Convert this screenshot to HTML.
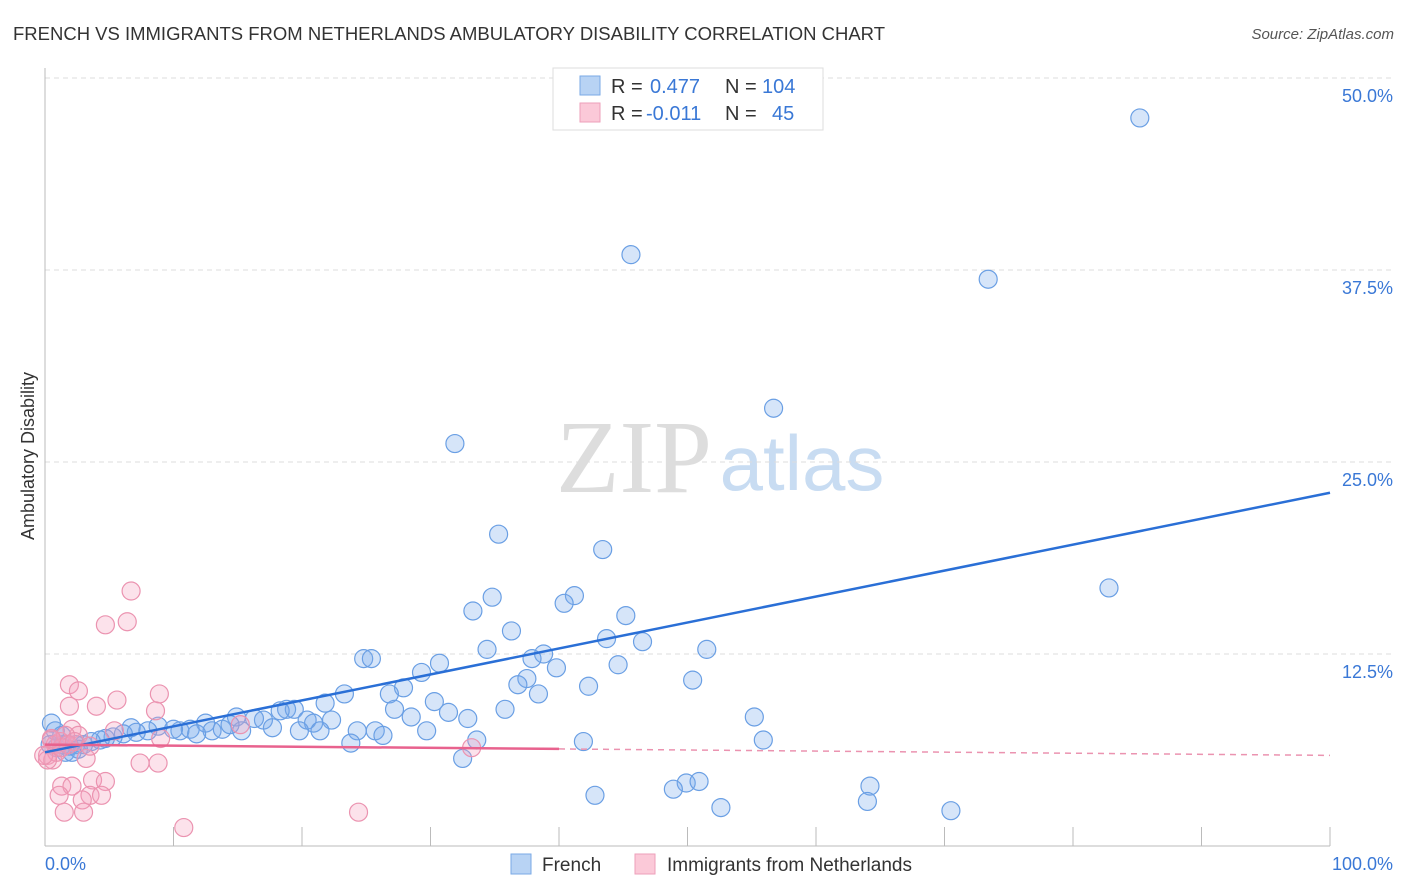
<!DOCTYPE html>
<html><head><meta charset="utf-8"><style>
body{margin:0;background:#fff;font-family:"Liberation Sans",sans-serif;}
#wrap{position:relative;width:1406px;height:892px;overflow:hidden;}
</style></head><body>
<div id="wrap">
<svg id="chart" width="1406" height="892" xmlns="http://www.w3.org/2000/svg">
<text x="13" y="40" font-size="18" fill="#333" textLength="872" lengthAdjust="spacingAndGlyphs">FRENCH VS IMMIGRANTS FROM NETHERLANDS AMBULATORY DISABILITY CORRELATION CHART</text>
<text x="1394" y="39" font-size="15" fill="#555" font-style="italic" text-anchor="end">Source: ZipAtlas.com</text>
<text x="34" y="456" font-size="18" fill="#333" text-anchor="middle" transform="rotate(-90 34 456)">Ambulatory Disability</text>
<g>
<text x="634" y="492" font-size="104" fill="#ddd" font-family="Liberation Serif,serif" text-anchor="middle">ZIP</text>
<text x="802" y="490" font-size="78" fill="#c8dcf2" text-anchor="middle">atlas</text>
</g>
<g id="grid"></g>
<g id="axes"></g>
<g id="pts"></g>
<g id="trends"></g>
<g>
<rect x="553" y="68" width="270" height="62" fill="#fff" stroke="#ddd"/>
<rect x="580" y="76" width="20" height="19" fill="#b8d3f4" stroke="#7aaae6"/>
<rect x="580" y="103" width="20" height="19" fill="#fbc9d8" stroke="#ee9fba"/>
<text x="611" y="93" font-size="20" fill="#333">R =</text><text x="650" y="93" font-size="20" fill="#3a78d6">0.477</text>
<text x="725" y="93" font-size="20" fill="#333">N =</text><text x="762" y="93" font-size="20" fill="#3a78d6">104</text>
<text x="611" y="120" font-size="20" fill="#333">R =</text><text x="646" y="120" font-size="20" fill="#3a78d6">-0.011</text>
<text x="725" y="120" font-size="20" fill="#333">N =</text><text x="772" y="120" font-size="20" fill="#3a78d6">45</text>
</g>
<g>
<rect x="511" y="854" width="20" height="20" fill="#b8d3f4" stroke="#7aaae6"/>
<text x="542" y="871" font-size="19" fill="#333">French</text>
<rect x="635" y="854" width="20" height="20" fill="#fbc9d8" stroke="#ee9fba"/>
<text x="667" y="871" font-size="19" fill="#333">Immigrants from Netherlands</text>
</g>
<text x="45" y="870" font-size="18" fill="#3a78d6">0.0%</text>
<text x="1393" y="870" font-size="18" fill="#3a78d6" text-anchor="end">100.0%</text>
</svg>
</div>
<script>
const yTicks=[12.5,25,37.5,50];
const yTickLabels=["12.5%","25.0%","37.5%","50.0%"];
const frenchX=[85.2,45.6,73.4,56.7,31.9,35.3,43.4,82.8,41.2,34.8,40.4,33.3,45.2,36.3,43.7,46.5,38.8,34.4,51.5,37.9,24.8,25.4,30.7,39.8,44.6,29.3,37.5,50.4,36.8,42.3,27.9,26.8,23.3,21.8,30.3,38.4,35.8,27.2,31.4,28.5,55.2,32.9,18.8,19.4,18.3,17.0,14.9,16.3,20.4,22.3,20.9,17.7,19.8,21.4,24.3,25.7,26.3,29.7,15.3,12.5,13.0,13.8,14.4,10.5,11.3,11.8,10.0,8.8,8.0,6.7,7.1,6.1,5.3,4.7,4.3,3.6,3.0,2.4,1.9,1.4,0.5,0.8,1.3,0.4,0.9,1.6,2.1,2.6,23.8,33.6,32.5,41.9,55.9,49.9,48.9,42.8,52.6,64.2,64.0,70.5,50.9];
const frenchY=[47.4,38.5,36.9,28.5,26.2,20.3,19.3,16.8,16.3,16.2,15.8,15.3,15.0,14.0,13.5,13.3,12.5,12.8,12.8,12.2,12.2,12.2,11.9,11.6,11.8,11.3,10.9,10.8,10.5,10.4,10.3,9.9,9.9,9.3,9.4,9.9,8.9,8.9,8.7,8.4,8.4,8.3,8.9,8.9,8.8,8.2,8.4,8.3,8.2,8.2,8.0,7.7,7.5,7.5,7.5,7.5,7.2,7.5,7.5,8.0,7.5,7.6,7.9,7.5,7.6,7.3,7.6,7.8,7.5,7.7,7.4,7.3,7.1,7.0,6.9,6.8,6.6,6.6,6.5,6.6,8.0,7.5,7.2,6.6,6.4,6.1,6.1,6.3,6.7,6.9,5.7,6.8,6.9,4.1,3.7,3.3,2.5,3.9,2.9,2.3,4.2];
const nethX=[6.7,6.4,4.7,1.9,2.6,8.9,5.6,4.0,1.9,8.6,2.1,5.4,9.0,2.6,0.5,0.8,1.2,1.6,0.2,0.6,3.2,7.4,8.8,1.3,2.1,3.7,4.7,1.1,3.5,4.4,2.9,1.5,3.0,10.8,24.4,33.2,15.2,0.9,0.2,1.3,1.8,2.3,3.5,-0.1,0.5];
const nethY=[16.6,14.6,14.4,10.5,10.1,9.9,9.5,9.1,9.1,8.8,7.6,7.5,7.0,7.2,6.9,6.6,6.8,7.2,5.9,5.6,5.7,5.4,5.4,3.9,3.9,4.3,4.2,3.3,3.3,3.3,3.0,2.2,2.2,1.2,2.2,6.4,7.9,6.1,5.6,6.4,6.6,6.8,6.5,5.9,7.0];
const frenchTrend=[6.1,23.0];
const nethTrend=[6.6,5.9];
const NS="http://www.w3.org/2000/svg";
const X=v=>45+v*12.85, Y=v=>846-v*15.36;
function mk(tag,attrs,parent){const e=document.createElementNS(NS,tag);for(const k in attrs)e.setAttribute(k,attrs[k]);parent.appendChild(e);return e;}
const grid=document.getElementById('grid'),axes=document.getElementById('axes'),pts=document.getElementById('pts'),tr=document.getElementById('trends');
yTicks.forEach((t,i)=>{
 const l=mk('line',{x1:45,x2:1394,y1:Y(t),y2:Y(t),stroke:'#ddd','stroke-dasharray':'5,4'},grid);
 
 
 const tx=mk('text',{x:1393,y:Y(t)+24,'font-size':18,fill:'#3a78d6','text-anchor':'end'},grid);
 tx.textContent=yTickLabels[i];
 
 
});
const ax=mk('line',{x1:45,x2:45,y1:68,y2:846,stroke:'#bbb'},axes);


const bx=mk('line',{x1:45,x2:1330,y1:846,y2:846,stroke:'#bbb'},axes);


for(let i=0;i<=10;i++){
 const t=mk('line',{x1:X(i*10),x2:X(i*10),y1:827,y2:846,stroke:'#bbb'},axes);
 
 
}
frenchX.forEach((v,i)=>{
 const c=mk('circle',{cx:X(v),cy:Y(frenchY[i]),r:9,fill:'rgba(120,170,235,0.3)',stroke:'#6a9fe4','stroke-width':1.2},pts);
 
 
});
nethX.forEach((v,i)=>{
 const c=mk('circle',{cx:X(v),cy:Y(nethY[i]),r:9,fill:'rgba(245,160,190,0.3)',stroke:'#eb93b0','stroke-width':1.2},pts);
 
 
});
const fl=mk('line',{x1:X(0),y1:Y(frenchTrend[0]),x2:X(100),y2:Y(frenchTrend[1]),stroke:'#2a6fd6','stroke-width':2.5},tr);


const ny=x=>nethTrend[0]+(nethTrend[1]-nethTrend[0])*x/100;
const n1=mk('line',{x1:X(0),y1:Y(ny(0)),x2:X(40),y2:Y(ny(40)),stroke:'#e8628e','stroke-width':2.5},tr);


const n2=mk('line',{x1:X(40),y1:Y(ny(40)),x2:X(100),y2:Y(ny(100)),stroke:'#eb93b0','stroke-width':1.5,'stroke-dasharray':'6,5'},tr);


</script>
</body></html>
